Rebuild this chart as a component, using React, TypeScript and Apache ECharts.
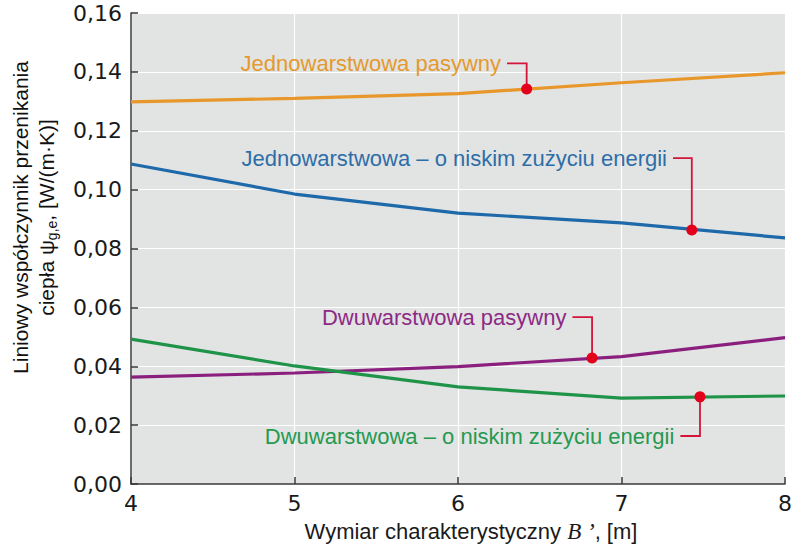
import React, { useEffect, useRef } from "react";
import * as echarts from "echarts";

const xValues = [4, 5, 6, 7, 8];
const seriesNames = [
  "Jednowarstwowa pasywny",
  "Jednowarstwowa – o niskim zużyciu energii",
  "Dwuwarstwowa pasywny",
  "Dwuwarstwowa – o niskim zużyciu energii",
];
const jednoPasywny = [0.1298, 0.131, 0.1326, 0.1363, 0.1397];
const jednoNiskie = [0.1087, 0.0985, 0.092, 0.0887, 0.0836];
const dwuPasywny = [0.0363, 0.0377, 0.0399, 0.0433, 0.0497];
const dwuNiskie = [0.0492, 0.0401, 0.033, 0.0292, 0.0299];
const lineColors = ["#e8972a", "#1d69aa", "#8a1f7e", "#1f9448"];
const textColors = ["#e39a2e", "#2d6ea8", "#8d2a84", "#26994f"];

// callouts: marker point on the curve, leader start x and label y
const markerX = [6.42, 7.43, 6.82, 7.48];
const markerY = [0.1342, 0.0863, 0.0428, 0.0296];
const leaderStartX = [6.3, 7.315, 6.7, 7.36];
const labelY = [0.1429, 0.1107, 0.0567, 0.0163];

const yTicks = [0, 0.02, 0.04, 0.06, 0.08, 0.1, 0.12, 0.14, 0.16];

export default function App() {
  const ref = useRef<HTMLDivElement>(null);
  useEffect(() => {
    if (!ref.current) return;
    const chart = echarts.init(ref.current, undefined, { renderer: "svg" });
    const allSeries = [jednoPasywny, jednoNiskie, dwuPasywny, dwuNiskie];
    const lineSeries = allSeries.map((vals, i) => ({
      type: "line",
      name: seriesNames[i],
      data: vals.map((v, j) => [xValues[j], v]),
      showSymbol: false,
      symbol: "none",
      lineStyle: { color: lineColors[i], width: 3.2 },
      z: 3,
    }));
    const calloutData = markerX.map((mx, i) => [mx, markerY[i], leaderStartX[i], labelY[i]]);
    const red = "#d3153a";
    const calloutSeries = {
      type: "custom",
      name: "callouts",
      clip: false,
      z: 5,
      data: calloutData,
      renderItem: (params: any, api: any) => {
        const i = params.dataIndex;
        const m = api.coord([api.value(0), api.value(1)]);
        const s = api.coord([api.value(2), api.value(3)]);
        return {
          type: "group",
          children: [
            {
              type: "polyline",
              shape: { points: [[s[0], s[1]], [m[0], s[1]], [m[0], m[1]]] },
              style: { stroke: red, lineWidth: 1.8, fill: null },
            },
            {
              type: "circle",
              shape: { cx: m[0], cy: m[1], r: 5.5 },
              style: { fill: "#e3001b" },
            },
            {
              type: "text",
              style: {
                text: seriesNames[i],
                x: s[0] - 6,
                y: s[1],
                align: "right",
                verticalAlign: "middle",
                fill: textColors[i],
                font: "22px 'Liberation Sans', Arial, sans-serif",
              },
            },
          ],
        };
      },
    };
    chart.setOption({
      animation: false,
      backgroundColor: "#ffffff",
      grid: {
        left: 131,
        right: 15,
        top: 13,
        bottom: 68,
        show: true,
        backgroundColor: "#e2e3e3",
        borderWidth: 0,
        outerBoundsMode: "none",
        containLabel: false,
      },
      xAxis: {
        type: "value",
        min: 4,
        max: 8,
        interval: 1,
        name: "Wymiar charakterystyczny {b|B ’}, [m]",
        nameLocation: "middle",
        nameGap: 36,
        nameTextStyle: {
          fontFamily: "'Liberation Sans', Arial, sans-serif",
          fontSize: 22,
          color: "#1a1a1a",
          padding: [0, 0, 0, 26],
          rich: {
            b: {
              fontFamily: "'Liberation Serif', 'DejaVu Serif', serif",
              fontStyle: "italic",
              fontSize: 23,
              color: "#1a1a1a",
            },
          },
        },
        axisLine: { show: true, onZero: false, lineStyle: { color: "#3a3a3a", width: 1.5 } },
        axisTick: { show: true, inside: true, length: 7, lineStyle: { color: "#3a3a3a", width: 1.5 } },
        axisLabel: {
          fontFamily: "'DejaVu Sans', sans-serif",
          fontSize: 22,
          color: "#1a1a1a",
          margin: 8,
        },
        splitLine: { show: true, lineStyle: { color: "#ffffff", width: 1.2 } },
      },
      yAxis: {
        type: "value",
        min: 0,
        max: 0.16,
        interval: 0.02,
        name: "Liniowy współczynnik przenikania\nciepła ψ{sub|g,e}, [W/(m·K)]",
        nameLocation: "middle",
        nameRotate: 90,
        nameGap: 72,
        nameTextStyle: {
          fontFamily: "'Liberation Sans', Arial, sans-serif",
          fontSize: 21,
          color: "#111111",
          lineHeight: 26,
          padding: [0, 0, 0, 62],
          rich: {
            sub: {
              fontFamily: "'Liberation Sans', Arial, sans-serif",
              fontSize: 14,
              color: "#111111",
              verticalAlign: "bottom",
              lineHeight: 12,
            },
          },
        },
        axisLine: { show: true, lineStyle: { color: "#3a3a3a", width: 1.5 } },
        axisTick: { show: true, inside: true, length: 7, lineStyle: { color: "#3a3a3a", width: 1.5 } },
        axisLabel: {
          fontFamily: "'DejaVu Sans', sans-serif",
          fontSize: 22,
          color: "#1a1a1a",
          margin: 9,
          formatter: (v: number) => {
            const t = yTicks.find((y) => Math.abs(y - v) < 1e-9);
            return (t !== undefined ? t : v).toFixed(2).replace(".", ",");
          },
        },
        splitLine: { show: true, lineStyle: { color: "#ffffff", width: 1.2 } },
      },
      series: [...lineSeries, calloutSeries],
    });
    return () => chart.dispose();
  }, []);
  return (
    <div
      ref={ref}
      style={{ position: "absolute", left: 0, top: 0, width: 800, height: 552 }}
    />
  );
}
